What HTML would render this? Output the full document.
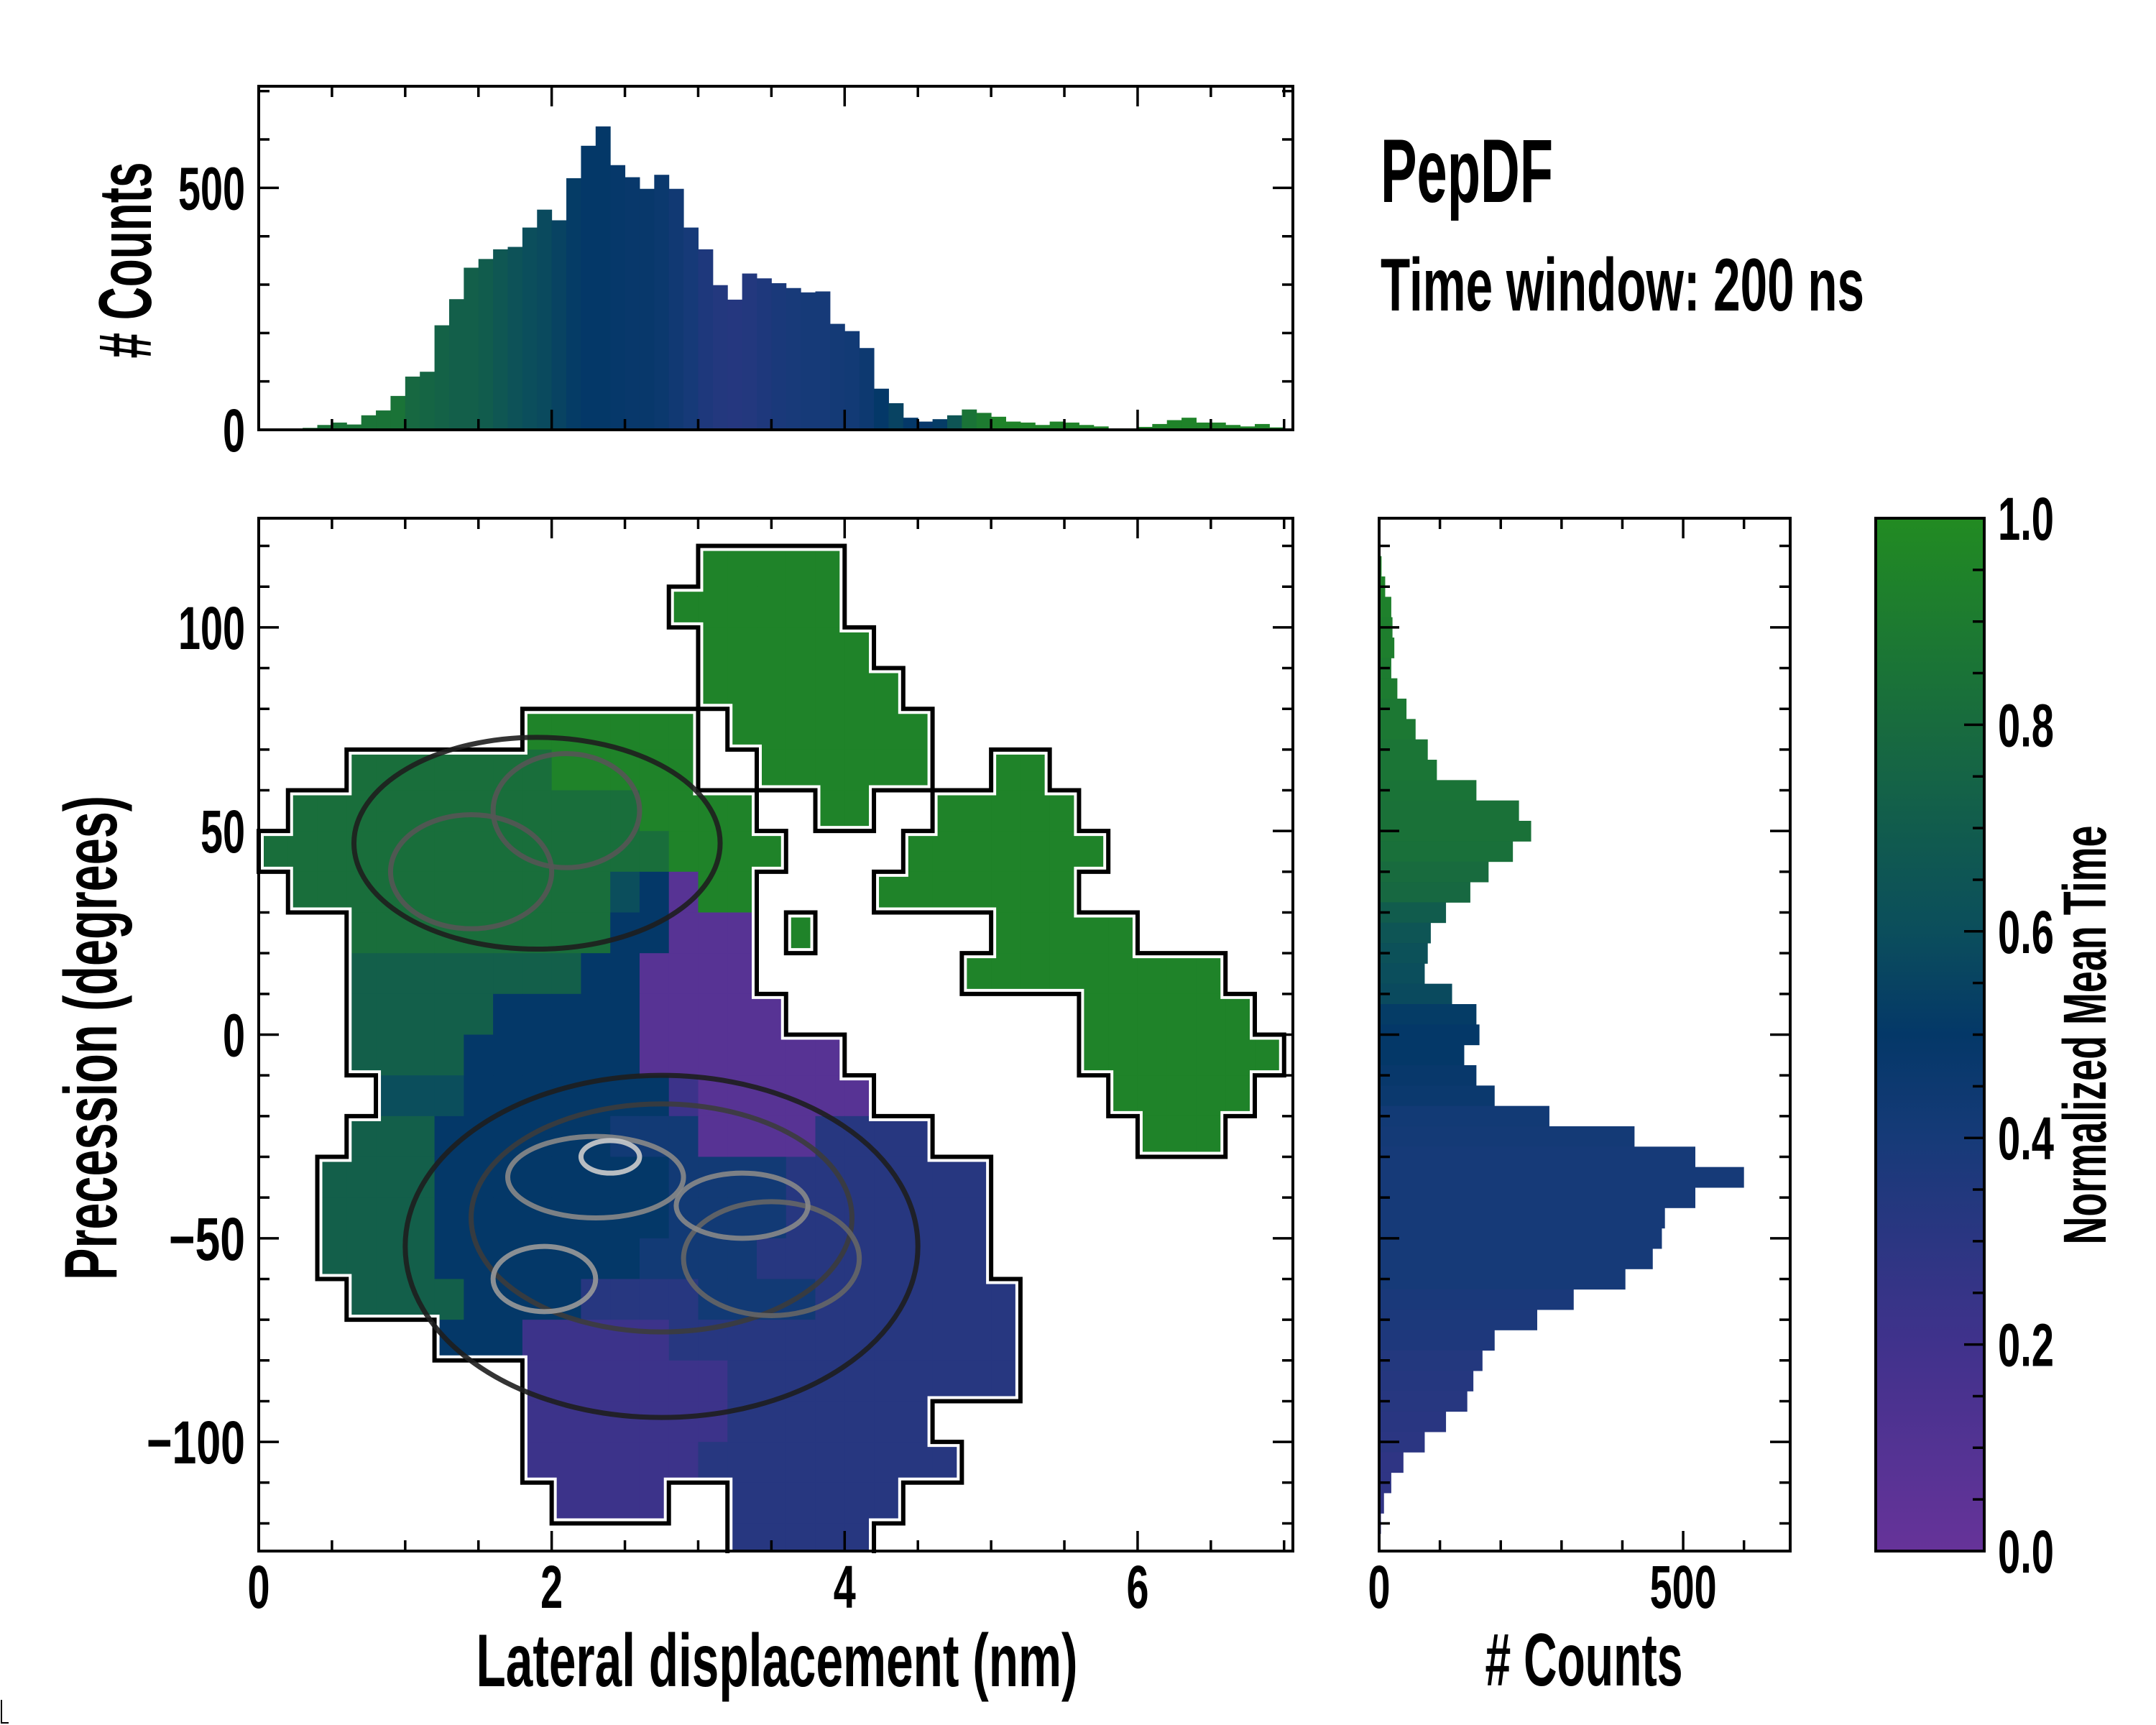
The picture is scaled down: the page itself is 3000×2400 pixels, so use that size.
<!DOCTYPE html>
<html><head><meta charset="utf-8"><title>PepDF</title>
<style>
html,body{margin:0;padding:0;background:#fff;}
svg{display:block;}
text{font-family:"Liberation Sans Narrow","Liberation Sans",sans-serif;font-weight:bold;fill:#000;}
</style></head>
<body>
<svg id="fig" xmlns="http://www.w3.org/2000/svg" width="3000" height="2400" viewBox="0 0 3000 2400">
<rect x="0" y="0" width="3000" height="2400" fill="#fff"/>
<g id="mainG"></g>
<g id="topG"></g>
<g id="rightG"></g>
<g id="cbG"></g>
<text x="1921" y="281" font-size="125" textLength="240" lengthAdjust="spacingAndGlyphs">PepDF</text>
<text x="1921" y="432" font-size="104" textLength="673" lengthAdjust="spacingAndGlyphs">Time window: 200 ns</text>
<text x="1081" y="2346" font-size="104" text-anchor="middle" textLength="837" lengthAdjust="spacingAndGlyphs">Lateral displacement (nm)</text>
<text transform="translate(162,1444) rotate(-90)" font-size="104" text-anchor="middle" textLength="674" lengthAdjust="spacingAndGlyphs">Precession (degrees)</text>
<text transform="translate(210,362) rotate(-90)" font-size="104" text-anchor="middle" textLength="273" lengthAdjust="spacingAndGlyphs"># Counts</text>
<text x="2204" y="2345" font-size="104" text-anchor="middle" textLength="275" lengthAdjust="spacingAndGlyphs"># Counts</text>
<text transform="translate(2930,1440) rotate(-90)" font-size="84" text-anchor="middle" textLength="583" lengthAdjust="spacingAndGlyphs">Normalized Mean Time</text>
<path d="M2 2365 V2397 H12" stroke="#000" stroke-width="2" fill="none"/>
</svg>
<script>
// ---------- data ----------
const heatRowTop = [120,110,100,90,80,70,60,50,40,30,20,10,0,-10,-20,-30,-40,-50,-60,-70,-80,-90,-100,-110,-120];
const heatRows = [
"...............99999...............",
"..............999999...............",
"...............999999..............",
"...............9999999.............",
".........999999.9999999............",
"...888888899999..999999..99........",
".8888888888889999..99..99999.......",
"888888888888889999....9999999......",
".8888888888865199....9999999......",
"...88888888855111.9......99999......",
"...77777777551111.......999999999",
"...777775555511111..........999999",
"...77775555551111111........9999999",
"....66655555552111111........99999.",
"...77755555544411113333.......999..",
"..77775555555544443333333...........",
"..77775555555544443333333...........",
"..77775555555444433333333...........",
"...77775555333344443333333.........",
"......55522222333333333333..........",
".........22222223333333333.........",
".........22222223333333............",
".........222222333333333...........",
"..........2222..333333.............",
"................33333.............."
];
const heatVals = {"9":0.95,"8":0.82,"7":0.72,"6":0.6,"5":0.5,"4":0.42,"3":0.32,"2":0.22,"1":0.08};
const contourCx = [1.9, 2.75, 1.45, 2.1, 2.75, 3.5, 2.3, 3.3, 1.95, 2.4];
const contourCy = [47, -52, 40, 55, -45, -55, -35, -42, -60, -30];
const contourRx = [1.25, 1.75, 0.55, 0.5, 1.3, 0.6, 0.6, 0.45, 0.35, 0.2];
const contourRy = [26, 42, 14, 14, 28, 14, 10, 8, 8, 4];
const contourGray = ["#1e1e1e","#1e1e1e","#555","#555","#3c3c3c","#666","#888","#888","#999","#ccc"];
const topCounts = [0,0,0,4,10,15,11,30,40,70,110,120,216,270,335,353,373,378,418,455,433,520,587,627,547,522,498,527,498,418,373,299,269,323,313,303,293,284,286,219,204,169,85,55,25,17,22,30,42,35,27,17,15,10,17,15,10,7,3,1,6,12,20,25,15,15,10,7,12,5];
const topColorVals = [0.85,0.85,0.85,0.85,0.85,0.85,0.85,0.85,0.85,0.85,0.78,0.76,0.74,0.72,0.72,0.7,0.66,0.63,0.6,0.58,0.55,0.52,0.5,0.5,0.49,0.48,0.48,0.46,0.43,0.4,0.36,0.34,0.33,0.34,0.36,0.38,0.39,0.4,0.4,0.41,0.42,0.45,0.5,0.55,0.5,0.48,0.52,0.65,0.85,0.9,0.95,0.95,0.95,0.95,0.95,0.95,0.95,0.95,0.95,0.95,0.95,0.95,0.95,0.95,0.95,0.95,0.95,0.95,0.95,0.95];
const rightAngles = [120,115,110,105,100,95,90,85,80,75,70,65,60,55,50,45,40,35,30,25,20,15,10,5,0,-5,-10,-15,-20,-25,-30,-35,-40,-45,-50,-55,-60,-65,-70,-75,-80,-85,-90,-95,-100,-105,-110,-115,-120,-125];
const rightCounts = [2,4,10,20,22,25,20,30,45,60,80,95,160,230,250,220,180,150,110,85,80,75,120,160,165,140,160,190,280,420,520,600,520,470,465,450,405,320,260,190,170,155,145,110,75,40,20,8,3,1];
const rightColorVals = [0.95,0.95,0.95,0.93,0.92,0.92,0.9,0.9,0.88,0.88,0.86,0.86,0.85,0.84,0.84,0.83,0.8,0.78,0.7,0.65,0.62,0.6,0.58,0.52,0.5,0.5,0.48,0.46,0.42,0.41,0.4,0.4,0.4,0.4,0.4,0.4,0.4,0.38,0.37,0.36,0.34,0.33,0.32,0.31,0.3,0.28,0.28,0.27,0.27,0.27];
const xTicksMajor = [0,2,4,6];
const yTicksMajor = [-100,-50,0,50,100];
const topTicksMajor = [0,500];
const rightTicksMajor = [0,500];
const cbTicks = [0.0,0.2,0.4,0.6,0.8,1.0];

// ---------- scales ----------
const L=360,R=1799,T=721,B=2158;
const xMin=0,xMax=7.06,yMin=-126.8,yMax=126.8;
const xs=v=>L+(v-xMin)/(xMax-xMin)*(R-L);
const ys=v=>B-(v-yMin)/(yMax-yMin)*(B-T);
const TT=120,TB=598,topMax=710;
const tys=v=>TB-v/topMax*(TB-TT);
const RL=1919,RR=2491,rightMax=676;
const rxs=v=>RL+v/rightMax*(RR-RL);
const CL=2610,CR=2761;
const cys=v=>B-v*(B-T);

const stops=[[0,[102,51,153]],[0.2,[64,50,140]],[0.4,[22,58,120]],[0.5,[4,56,104]],[0.6,[11,78,92]],[0.8,[24,107,62]],[1,[34,139,34]]];
function cmap(v){v=Math.max(0,Math.min(1,v));for(let i=1;i<stops.length;i++){if(v<=stops[i][0]){const a=stops[i-1],b=stops[i];const t=(v-a[0])/(b[0]-a[0]);const c=a[1].map((q,k)=>Math.round(q+(b[1][k]-q)*t));return `rgb(${c[0]},${c[1]},${c[2]})`;}}return 'rgb(34,139,34)';}

const NS="http://www.w3.org/2000/svg";
function mk(tag,attrs,parent){const e=document.createElementNS(NS,tag);for(const k in attrs)e.setAttribute(k,attrs[k]);parent.appendChild(e);return e;}

// ---------- main heatmap ----------
const mainG=document.getElementById('mainG');
const cellW=0.2, cellH=10;
const grid=heatRows.map(r=>r.padEnd(35,'.').slice(0,35));
for(let r=0;r<grid.length;r++){
  for(let c=0;c<35;c++){
    const ch=grid[r][c]; if(ch==='.')continue;
    const x0=c*cellW, yTop=Math.min(heatRowTop[r],yMax);
    const yBot=Math.max(heatRowTop[r]-cellH,yMin);
    const x1=Math.min(x0+cellW,xMax);
    const rc=mk('rect',{x:xs(x0),y:ys(yTop),width:xs(x1)-xs(x0)+0.6,height:ys(yBot)-ys(yTop)+0.6,fill:cmap(heatVals[ch])},mainG);
    
    
  }
}
let od='';
const filled=(r,c)=>r>=0&&r<grid.length&&c>=0&&c<35&&grid[r][c]!=='.';
for(let r=0;r<grid.length;r++)for(let c=0;c<35;c++){
  if(!filled(r,c))continue;
  const xa=xs(c*cellW),xb=xs(Math.min((c+1)*cellW,xMax)),ya=ys(Math.min(heatRowTop[r],yMax)),yb=ys(Math.max(heatRowTop[r]-cellH,yMin));
  if(!filled(r-1,c)&&heatRowTop[r]<yMax)od+=`M${xa} ${ya}H${xb}`;
  if(!filled(r+1,c)&&heatRowTop[r]-cellH>yMin)od+=`M${xa} ${yb}H${xb}`;
  if(!filled(r,c-1))od+=`M${xa} ${ya}V${yb}`;
  if(!filled(r,c+1)&&(c+1)*cellW<xMax)od+=`M${xb} ${ya}V${yb}`;
}
const outW=mk('path',{d:od,stroke:'#fff',"stroke-width":14,fill:'none',"stroke-linecap":'square'},mainG);


const outB=mk('path',{d:od,stroke:'#000',"stroke-width":6,fill:'none',"stroke-linecap":'square'},mainG);


for(let i=0;i<contourCx.length;i++){
  const cx=xs(contourCx[i]),cy=ys(contourCy[i]);
  const e=mk('ellipse',{cx:cx,cy:cy,rx:xs(contourRx[i])-xs(0),ry:ys(0)-ys(contourRy[i]),fill:'none',stroke:contourGray[i],"stroke-width":7,opacity:0.9},mainG);
  
  
}
function frame(g,x,y,w,h,name){const f=mk('rect',{x:x,y:y,width:w,height:h,fill:'none',stroke:'#000',"stroke-width":4},g);}
function ticksPath(g,d,name){const p=mk('path',{d:d,stroke:'#000',"stroke-width":3.5,fill:'none'},g);}
function txtLen(s){let w=0;for(const ch of s){w+= ch==='.'?16:(ch==='\u2212'?44:31);}return w;}
function label(g,x,y,txt,anchor,name){const t=mk('text',{x:x,y:y,"font-size":84,"text-anchor":anchor,textLength:txtLen(txt),lengthAdjust:'spacingAndGlyphs'},g);t.textContent=txt;return t;}

frame(mainG,L,T,R-L,B-T,'main-axes-frame');
let d='';
for(let v=0;v<=7.0001;v+=0.5){const X=xs(v),len=(Math.abs(v-Math.round(v/2)*2)<1e-6)?28:15;d+=`M${X} ${B}v${-len}M${X} ${T}v${len}`;}
for(let v=-120;v<=120;v+=10){const Y=ys(v),len=(v%50===0)?28:15;d+=`M${L} ${Y}h${len}M${R} ${Y}h${-len}`;}
ticksPath(mainG,d,'main-ticks');
xTicksMajor.forEach(v=>label(mainG,xs(v),2237,String(v),'middle','x-tick-label'));
yTicksMajor.forEach(v=>label(mainG,341,ys(v)+30,v<0?'\u2212'+Math.abs(v):String(v),'end','y-tick-label'));

// ---------- top histogram ----------
const topG=document.getElementById('topG');
const bw=0.1;
topCounts.forEach((c,i)=>{
  if(c<=0)return;
  const x0=i*bw;
  const b=mk('rect',{x:xs(x0),y:tys(c),width:xs(x0+bw)-xs(x0)+0.5,height:TB-tys(c),fill:cmap(topColorVals[i])},topG);
  
  
});
frame(topG,L,TT,R-L,TB-TT,'top-histogram-frame');
d='';
for(let v=0;v<=7.0001;v+=0.5){const X=xs(v),len=(Math.abs(v-Math.round(v/2)*2)<1e-6)?28:15;d+=`M${X} ${TB}v${-len}M${X} ${TT}v${len}`;}
for(let v=0;v<=700;v+=100){const Y=tys(v),len=(v%500===0)?28:15;d+=`M${L} ${Y}h${len}M${R} ${Y}h${-len}`;}
ticksPath(topG,d,'top-histogram-ticks');
topTicksMajor.forEach(v=>label(topG,341,tys(v)+30,String(v),'end','top-histogram-y-tick-label'));

// ---------- right histogram ----------
const rightG=document.getElementById('rightG');
rightAngles.forEach((a,i)=>{
  const c=rightCounts[i];
  const yT=ys(Math.min(a+2.5,yMax)),yB=ys(Math.max(a-2.5,yMin));
  const b=mk('rect',{x:RL,y:yT,width:rxs(c)-RL,height:yB-yT+0.5,fill:cmap(rightColorVals[i])},rightG);
  
  
});
frame(rightG,RL,T,RR-RL,B-T,'right-histogram-frame');
d='';
for(let v=0;v<=600;v+=100){const X=rxs(v),len=(v%500===0)?28:15;d+=`M${X} ${B}v${-len}M${X} ${T}v${len}`;}
for(let v=-120;v<=120;v+=10){const Y=ys(v),len=(v%50===0)?28:15;d+=`M${RL} ${Y}h${len}M${RR} ${Y}h${-len}`;}
ticksPath(rightG,d,'right-histogram-ticks');
rightTicksMajor.forEach(v=>label(rightG,rxs(v),2237,String(v),'middle','right-histogram-x-tick-label'));

// ---------- colorbar ----------
const cbG=document.getElementById('cbG');
const defs=mk('defs',{},cbG);
const lg=mk('linearGradient',{id:'cbgrad',x1:0,y1:1,x2:0,y2:0},defs);
for(let i=0;i<=20;i++){const v=i/20;mk('stop',{offset:v,"stop-color":cmap(v)},lg);}
const cbr=mk('rect',{x:CL,y:T,width:CR-CL,height:B-T,fill:'url(#cbgrad)'},cbG);


frame(cbG,CL,T,CR-CL,B-T,'colorbar-frame');
d='';
for(let k=1;k<20;k++){const v=k/20;const Y=cys(v);const len=(k%4===0)?28:16;d+=`M${CR} ${Y}h${-len}`;}
ticksPath(cbG,d,'colorbar-ticks');
cbTicks.forEach(v=>label(cbG,2780,cys(v)+30,v.toFixed(1),'start','colorbar-tick-label'));
</script>
</body></html>
